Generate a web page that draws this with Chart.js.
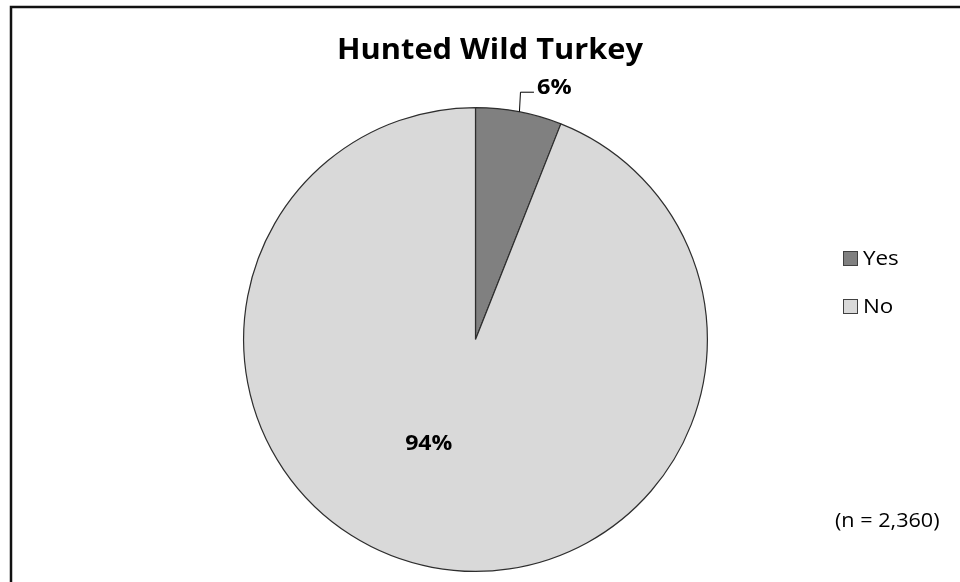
<!DOCTYPE html>
<html>
<head>
<meta charset="utf-8">
<script src="https://cdn.jsdelivr.net/npm/chart.js@4.4.1/dist/chart.umd.min.js"></script>
<style>
  html, body { margin: 0; padding: 0; background: #fff; }
  #wrap { width: 960px; height: 582px; position: relative; }
</style>
</head>
<body>
<div id="wrap"><canvas id="pie" width="960" height="582"></canvas></div>
<script>
// --- Données ---
const chartTitle = "Hunted Wild Turkey";
const categories = ["Yes", "No"];
const percents = [6, 94];
const sampleNote = "(n = 2,360)";
const sliceColors = ["#808080", "#d9d9d9"];

const FONT = "'Open Sans', Lato, sans-serif";

// texte légèrement élargi (la police d'origine est plus large qu'Open Sans)
function wideText(ctx, text, x, y, sx) {
  ctx.save();
  ctx.translate(x, y);
  ctx.scale(sx, 1);
  ctx.fillText(text, 0, 0);
  ctx.restore();
}

// --- Décor : cadre, titre, légende, étiquettes ---
const decorPlugin = {
  id: "decor",
  afterDraw(chart) {
    const ctx = chart.ctx;
    ctx.save();

    // cadre (seuls haut et gauche sont visibles)
    ctx.strokeStyle = "#111";
    ctx.lineWidth = 2.5;
    ctx.beginPath();
    ctx.moveTo(11, 590);
    ctx.lineTo(11, 7);
    ctx.lineTo(970, 7);
    ctx.stroke();

    ctx.fillStyle = "#000";
    ctx.textBaseline = "alphabetic";

    // titre
    ctx.font = `bold 28px ${FONT}`;
    ctx.textAlign = "center";
    wideText(ctx, chartTitle, 490, 59, 1.1);

    // légende
    ctx.font = `20px ${FONT}`;
    ctx.textAlign = "left";
    categories.forEach((cat, i) => {
      const y = 258.5 + i * 48;
      ctx.fillStyle = sliceColors[i];
      ctx.fillRect(843.5, y - 7, 14, 14);
      ctx.strokeStyle = "#404040";
      ctx.lineWidth = 1;
      ctx.strokeRect(843.5, y - 7, 14, 14);
      ctx.fillStyle = "#000";
      wideText(ctx, cat, 863, y + 6.5, 1.12);
    });

    // n
    wideText(ctx, sampleNote, 835, 527, 1.08);

    // étiquettes des parts
    const arcs = chart.getDatasetMeta(0).data;
    ctx.font = `bold 21px ${FONT}`;
    arcs.forEach((arc, i) => {
      const p = arc.getProps(["x", "y", "startAngle", "endAngle", "outerRadius"], true);
      const mid = (p.startAngle + p.endAngle) / 2;
      const label = percents[i] + "%";
      if (i === 0) {
        // petite part : étiquette à l'extérieur avec trait de rappel
        const ex = p.x + Math.cos(mid) * p.outerRadius;
        const ey = p.y + Math.sin(mid) * p.outerRadius;
        ctx.strokeStyle = "#000";
        ctx.lineWidth = 1;
        ctx.beginPath();
        ctx.moveTo(ex + 0.5, ey);
        ctx.lineTo(ex + 1.5, ey - 19.5);
        ctx.lineTo(ex + 15, ey - 19.5);
        ctx.stroke();
        ctx.fillStyle = "#000";
        ctx.textAlign = "left";
        wideText(ctx, label, ex + 18, ey - 18, 1.12);
      } else {
        const c = arc.tooltipPosition(true);
        ctx.fillStyle = "#000";
        ctx.textAlign = "center";
        wideText(ctx, label, c.x - 25, c.y - 3, 1.1);
      }
    });

    ctx.restore();
  },
};

new Chart(document.getElementById("pie"), {
  type: "pie",
  data: {
    labels: categories,
    datasets: [{
      data: percents,
      backgroundColor: sliceColors,
      borderColor: "#2e2e2e",
      borderWidth: 1.2,
      hoverOffset: 0,
    }],
  },
  options: {
    responsive: false,
    animation: false,
    devicePixelRatio: 1,
    layout: { padding: { top: 107, bottom: 10, left: 243, right: 252 } },
    plugins: {
      legend: { display: false },
      tooltip: { enabled: false },
      title: { display: false },
    },
  },
  plugins: [decorPlugin],
});
</script>
</body>
</html>
